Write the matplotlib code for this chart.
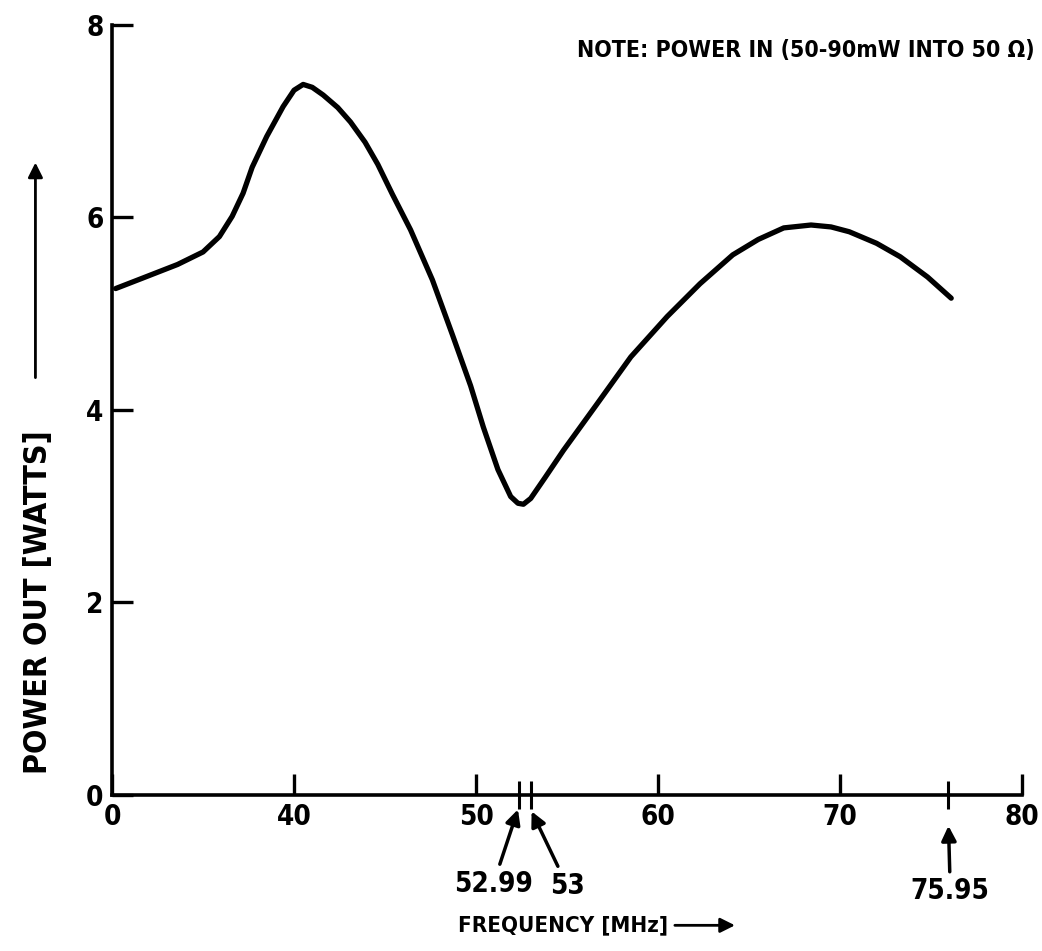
import matplotlib
matplotlib.use("Agg")
import matplotlib.pyplot as plt
from matplotlib.patches import FancyArrowPatch

plt.rcParams['font.family'] = ['DejaVu Sans']
plt.rcParams['font.stretch'] = 'condensed'
plt.rcParams['font.weight'] = 'bold'

# curve (frequency MHz, power out W)
freq = [30.2, 31.7, 33.6, 35.0, 35.9, 36.6, 37.2, 37.7, 38.5, 39.4, 40.0, 40.5,
        41.0, 41.6, 42.4, 43.1, 43.9, 44.6, 45.4, 46.4, 47.6, 48.7, 49.7, 50.4,
        51.2, 51.9, 52.3, 52.6, 53.0, 53.8, 54.8, 56.6, 58.5, 60.5, 62.3, 64.1,
        65.5, 66.9, 68.4, 69.5, 70.5, 72.0, 73.3, 74.8, 76.1]
power = [5.26, 5.37, 5.51, 5.64, 5.80, 6.01, 6.25, 6.52, 6.84, 7.15, 7.32, 7.38,
         7.35, 7.27, 7.14, 6.99, 6.78, 6.55, 6.24, 5.87, 5.35, 4.78, 4.25, 3.82,
         3.38, 3.10, 3.03, 3.02, 3.08, 3.30, 3.58, 4.05, 4.55, 4.97, 5.31, 5.61,
         5.77, 5.89, 5.92, 5.90, 5.85, 5.73, 5.59, 5.38, 5.16]

x_ticks = [30, 40, 50, 60, 70, 80]
x_labels = ['0', '40', '50', '60', '70', '80']
y_ticks = [0, 2, 4, 6, 8]
y_labels = ['0', '2', '4', '6', '8']

# marked frequencies: where they sit on the drawn scale, and their labels
mark_pos = [52.35, 53.0, 75.95]
mark_labels = ['52.99', '53', '75.95']
mark_text_pos = [(50.95, -0.92), (55.0, -0.94), (76.05, -1.0)]
mark_arrow_tip = [(52.3, -0.15), (53.05, -0.17), (75.95, -0.32)]


def draw():
    fig = plt.figure(figsize=(10.42, 9.51), dpi=100)
    ax = fig.add_axes([0.1075, 0.164, 0.8735, 0.810])

    ax.plot(freq, power, color='black', lw=3.8, solid_capstyle='round',
            solid_joinstyle='round')

    ax.set_xlim(30, 80)
    ax.set_ylim(0, 8)
    for s in ['top', 'right']:
        ax.spines[s].set_visible(False)
    for s in ['left', 'bottom']:
        ax.spines[s].set_linewidth(2.6)

    ax.set_xticks(x_ticks)
    ax.set_xticklabels(x_labels)
    ax.set_yticks(y_ticks)
    ax.set_yticklabels(y_labels)
    ax.tick_params(direction='in', length=15, width=2.4, labelsize=20, pad=6)
    ax.tick_params(axis='x', pad=6)

    ax.set_xticks(mark_pos, minor=True)
    ax.tick_params(axis='x', which='minor', direction='inout', length=20, width=2.2)

    for lab, txt, tip in zip(mark_labels, mark_text_pos, mark_arrow_tip):
        ax.annotate(lab, xy=tip, xytext=txt, textcoords='data', ha='center',
                    va='center', fontsize=20, annotation_clip=False,
                    arrowprops=dict(arrowstyle='-|>', color='black', lw=2.5,
                                    mutation_scale=22, shrinkA=2, shrinkB=0))

    fig.text(0.993, 0.947, 'NOTE: POWER IN (50-90mW INTO 50 \u03a9)', ha='right',
             va='center', fontsize=16.6)

    fig.text(0.037, 0.367, 'POWER OUT [WATTS]', rotation=90, ha='center',
             va='center', fontsize=23)
    fig.add_artist(FancyArrowPatch(
        (0.034, 0.600), (0.034, 0.832), transform=fig.transFigure,
        arrowstyle='-|>', mutation_scale=22, lw=2, color='black'))

    fig.text(0.540, 0.027, 'FREQUENCY [MHz]', ha='center', va='center', fontsize=16)
    fig.add_artist(FancyArrowPatch(
        (0.645, 0.027), (0.708, 0.027), transform=fig.transFigure,
        arrowstyle='-|>', mutation_scale=22, lw=2, color='black'))

    fig.savefig('out.png', dpi=100)


if __name__ == '__main__':
    draw()
